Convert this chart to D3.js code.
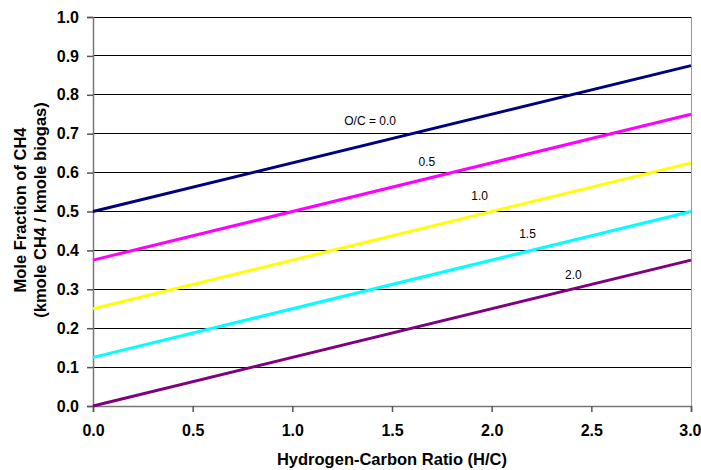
<!DOCTYPE html>
<html><head><meta charset="utf-8">
<script src="https://cdn.jsdelivr.net/npm/d3@7/dist/d3.min.js"></script>
<style>body{margin:0;background:#fff}svg{display:block}</style>
</head><body>
<svg id="c" width="701" height="470"></svg>
<script>
const hcRatio = [0.0, 3.0];
const seriesNames = ["O/C = 0.0", "0.5", "1.0", "1.5", "2.0"];
const seriesValues = [
  [0.5, 0.875],
  [0.375, 0.75],
  [0.25, 0.625],
  [0.125, 0.5],
  [0.0, 0.375]
];
const seriesColors = ["#000080", "#FF00FF", "#FFFF00", "#00FFFF", "#800080"];
const labelPos = [[1.39, 0.722], [1.675, 0.617], [1.94, 0.53], [2.18, 0.432], [2.41, 0.326]];
const xTicks = [0, 0.5, 1, 1.5, 2, 2.5, 3];
const yTicks = [0, 0.1, 0.2, 0.3, 0.4, 0.5, 0.6, 0.7, 0.8, 0.9, 1.0];

const svg = d3.select("#c");
const L = 93, R = 691, T = 17, B = 406;
const x = d3.scaleLinear().domain([0, 3]).range([L, R]);
const y = d3.scaleLinear().domain([0, 1]).range([B, T]);
const font = "Arial, 'Liberation Sans', sans-serif";

// gridlines
svg.append("g").selectAll("line").data(yTicks.filter(d => d > 0)).join("line")
  .attr("x1", L).attr("x2", R).attr("y1", d => y(d)).attr("y2", d => y(d))
  .attr("stroke", "#000").attr("stroke-width", 1).attr("shape-rendering", "crispEdges");
// right border
svg.append("line").attr("x1", R).attr("x2", R).attr("y1", T).attr("y2", B)
  .attr("stroke", "#999").attr("shape-rendering", "crispEdges");

// axes
const xa = svg.append("g").attr("transform", `translate(0,${B})`)
  .call(d3.axisBottom(x).tickValues(xTicks).tickFormat(d3.format(".1f")).tickSizeOuter(0).tickSize(6).tickPadding(13));
const ya = svg.append("g").attr("transform", `translate(${L},0)`)
  .call(d3.axisLeft(y).tickValues(yTicks).tickFormat(d3.format(".1f")).tickSizeOuter(0).tickSize(6).tickPadding(8));
[xa, ya].forEach(a => {
  a.select(".domain").attr("stroke", "#777").attr("stroke-width", 1.5);
  a.selectAll(".tick line").attr("stroke", "#555").attr("stroke-width", 1.5);
  a.selectAll("text").attr("font-family", font).attr("font-size", 16).attr("font-weight", "bold").attr("fill", "#000");
});
// keep the last x label inside the window
xa.selectAll(".tick text").filter(d => d === 3).attr("text-anchor", "end").attr("x", 10);

// lines
const line = d3.line().x((d, i) => x(hcRatio[i])).y(d => y(d));
svg.append("g").selectAll("path").data(seriesValues).join("path")
  .attr("d", d => line(d)).attr("fill", "none")
  .attr("stroke", (d, i) => seriesColors[i]).attr("stroke-width", 3);

// labels
svg.append("g").selectAll("text").data(seriesNames).join("text")
  .attr("x", (d, i) => x(labelPos[i][0])).attr("y", (d, i) => y(labelPos[i][1]))
  .attr("text-anchor", "middle").attr("font-family", font).attr("font-size", 12)
  .attr("fill", "#000").text(d => d);

// axis titles
svg.append("text").attr("x", 392).attr("y", 465)
  .attr("text-anchor", "middle").attr("font-family", font).attr("font-size", 16.5)
  .attr("font-weight", "bold").text("Hydrogen-Carbon Ratio (H/C)");
const yt = svg.append("text").attr("transform", `translate(0,210) rotate(-90)`)
  .attr("text-anchor", "middle").attr("font-family", font).attr("font-size", 16.5).attr("font-weight", "bold");
yt.append("tspan").attr("x", 0).attr("y", 26).text("Mole Fraction of CH4");
yt.append("tspan").attr("x", 0).attr("y", 46).text("(kmole CH4 / kmole biogas)");
</script>
</body></html>
